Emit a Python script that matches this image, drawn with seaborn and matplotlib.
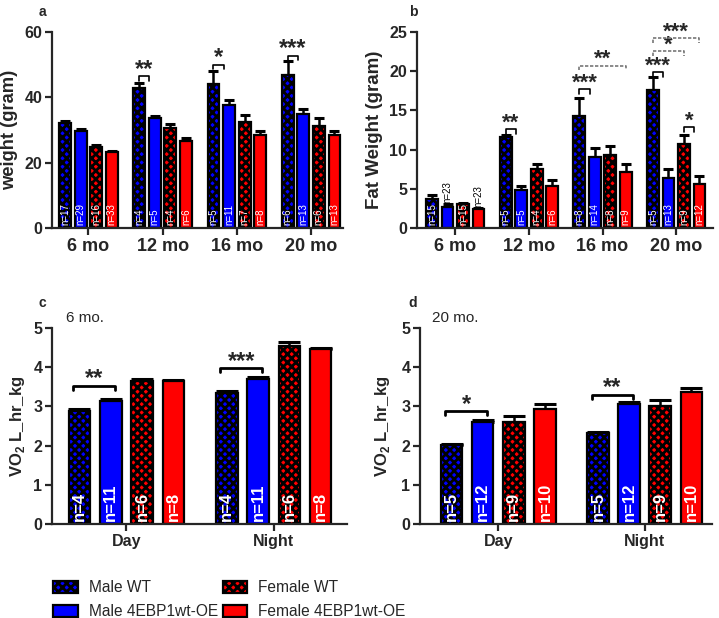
import numpy as np
import pandas as pd
import matplotlib
matplotlib.use("Agg")
import matplotlib.pyplot as plt
import seaborn as sns

sns.set_style("ticks")
plt.rcParams['font.family'] = ['Liberation Sans', 'DejaVu Sans']
plt.rcParams['mathtext.fontset'] = 'custom'
plt.rcParams['mathtext.rm'] = 'Liberation Sans:bold'
plt.rcParams['mathtext.bf'] = 'Liberation Sans:bold'
plt.rcParams['hatch.linewidth'] = 2.0

# ---------------- data ----------------
genotypes = ["Male WT", "Male 4EBP1wt-OE", "Female WT", "Female 4EBP1wt-OE"]
colors = ["#0000ff", "#0000ff", "#ff0000", "#ff0000"]
ages = ["6 mo", "12 mo", "16 mo", "20 mo"]
periods = ["Day", "Night"]

# panel a: body weight (gram)
weight_male_wt = [32.0, 42.9, 44.2, 46.9]
weight_male_oe = [29.7, 33.8, 37.6, 34.9]
weight_female_wt = [24.8, 30.7, 32.5, 31.3]
weight_female_oe = [23.3, 26.7, 28.4, 28.6]
weight_err_male_wt = [0.8, 1.4, 3.9, 4.1]
weight_err_male_oe = [0.5, 0.4, 1.7, 1.5]
weight_err_female_wt = [0.5, 1.2, 2.1, 2.5]
weight_err_female_oe = [0.3, 0.7, 1.3, 1.0]
weight_n_male_wt = ["n=17", "n=4", "n=5", "n=6"]
weight_n_male_oe = ["n=29", "n=5", "n=11", "n=13"]
weight_n_female_wt = ["n=16", "n=4", "n=7", "n=6"]
weight_n_female_oe = ["n=33", "n=6", "n=8", "n=13"]

# panel b: fat weight (gram)
fat_male_wt = [3.7, 11.6, 14.3, 17.6]
fat_male_oe = [2.7, 4.9, 9.1, 6.4]
fat_female_wt = [3.0, 7.5, 9.3, 10.7]
fat_female_oe = [2.4, 5.4, 7.1, 5.6]
fat_err_male_wt = [0.5, 0.3, 2.3, 1.6]
fat_err_male_oe = [0.4, 0.5, 1.1, 1.1]
fat_err_female_wt = [0.2, 0.7, 1.2, 1.2]
fat_err_female_oe = [0.2, 0.7, 1.1, 1.0]
fat_n_male_wt = ["n=15", "n=5", "n=8", "n=5"]
fat_n_male_oe = ["n=23", "n=5", "n=14", "n=13"]
fat_n_female_wt = ["n=15", "n=4", "n=8", "n=9"]
fat_n_female_oe = ["n=23", "n=6", "n=9", "n=12"]

# panel c: VO2 at 6 months
vo2_6_male_wt = [2.88, 3.33]
vo2_6_male_oe = [3.15, 3.71]
vo2_6_female_wt = [3.65, 4.55]
vo2_6_female_oe = [3.64, 4.47]
vo2_6_err_male_wt = [0.05, 0.06]
vo2_6_err_male_oe = [0.04, 0.04]
vo2_6_err_female_wt = [0.04, 0.10]
vo2_6_err_female_oe = [0.03, 0.03]
vo2_6_n = ["n=4", "n=11", "n=6", "n=8"]

# panel d: VO2 at 20 months
vo2_20_male_wt = [2.01, 2.32]
vo2_20_male_oe = [2.60, 3.05]
vo2_20_female_wt = [2.60, 3.02]
vo2_20_female_oe = [2.94, 3.37]
vo2_20_err_male_wt = [0.02, 0.02]
vo2_20_err_male_oe = [0.05, 0.05]
vo2_20_err_female_wt = [0.15, 0.14]
vo2_20_err_female_oe = [0.11, 0.10]
vo2_20_n = ["n=5", "n=12", "n=9", "n=10"]

# significance annotations: (group index, bar i, bar j, y, label, dashed)
sig_a = [(1, 0, 1, 46.5, "**", False), (2, 0, 1, 50.0, "*", False), (3, 0, 1, 52.8, "***", False)]
sig_b = [(1, 0, 1, 12.6, "**", False), (2, 0, 1, 17.7, "***", False), (2, 0, 3, 20.7, "**", True),
         (3, 0, 1, 19.9, "***", False), (3, 0, 2, 22.6, "*", True), (3, 0, 3, 24.2, "***", True),
         (3, 2, 3, 12.9, "*", False)]
sig_c = [(0, 0, 1, 3.52, "**", False), (1, 0, 1, 3.97, "***", False)]
sig_d = [(0, 0, 1, 2.87, "*", False), (1, 0, 1, 3.29, "**", False)]

W = 719 / 100
H = 618 / 100
fig = plt.figure(figsize=(W, H), dpi=100)

def fx(px):
    return px / 719

def fy(py):
    return 1 - py / 618

ax_a = fig.add_axes([fx(52), fy(228), fx(343) - fx(52), fy(32) - fy(228)])
ax_b = fig.add_axes([fx(417), fy(228), fx(713) - fx(417), fy(32) - fy(228)])
ax_c = fig.add_axes([fx(52), fy(524), fx(347) - fx(52), fy(328) - fy(524)])
ax_d = fig.add_axes([fx(420), fy(524), fx(712) - fx(420), fy(328) - fy(524)])


def draw_panel(ax, cats, means, errs, width, gap, capsize):
    rows = []
    for g, vals in zip(genotypes, means):
        for c, v in zip(cats, vals):
            rows.append({"cat": c, "geno": g, "value": v})
    df = pd.DataFrame(rows)
    sns.barplot(data=df, x="cat", y="value", hue="geno", order=cats, hue_order=genotypes,
                palette=colors, saturation=1, width=width, gap=gap, edgecolor="black",
                linewidth=1.6, errorbar=None, legend=False, ax=ax, zorder=2)
    bar_conts = list(ax.containers)
    centers = np.zeros((4, len(cats)))
    for i, cont in enumerate(bar_conts):
        for j, bar in enumerate(cont.patches):
            if i in (0, 2):
                bar.set_hatch("xxxx")
            xc = bar.get_x() + bar.get_width() / 2
            centers[i, j] = xc
            ax.errorbar([xc], [bar.get_height()], yerr=[[0], [errs[i][j]]], fmt="none",
                        ecolor="black", elinewidth=1.8, capsize=capsize, capthick=2.2, zorder=1)
    bw = bar_conts[0].patches[0].get_width()
    return centers, bw, bar_conts


def style_axis(ax, ylim, yticks, ylabel, xfs, yfs, lfs):
    ax.set_ylim(*ylim)
    ax.set_yticks(yticks)
    ax.set_xlabel("")
    ax.set_ylabel(ylabel, fontsize=lfs, fontweight="bold")
    for s in ["top", "right"]:
        ax.spines[s].set_visible(False)
    for s in ["left", "bottom"]:
        ax.spines[s].set_linewidth(1.6)
    ax.tick_params(width=1.6, length=5, direction="out", pad=2)
    ax.tick_params(axis="x", labelsize=xfs)
    ax.tick_params(axis="y", labelsize=yfs)
    for lab in ax.get_xticklabels() + ax.get_yticklabels():
        lab.set_fontweight("bold")


def add_sigs(ax, centers, bw, sigs, tick, fs, style):
    for g, i, j, y, lab, dashed in sigs:
        if style == "short":
            x1 = centers[i, g]
            x2 = centers[j, g] - (0.45 * bw if j - i == 1 else 0.0)
        else:
            x1 = centers[i, g] - 0.3 * bw
            x2 = centers[j, g] + 0.2 * bw
        if dashed:
            ax.plot([x1, x1, x2, x2], [y - tick, y, y, y - tick], color="#777777", lw=1.2,
                    ls=(0, (2, 1)), zorder=3, clip_on=False)
        else:
            ax.plot([x1, x1, x2, x2], [y - tick, y, y, y - tick], color="black",
                    lw=1.2 if style == "short" else 2.0, zorder=3, clip_on=False)
        ax.annotate(lab, xy=((x1 + x2) / 2, y), xytext=(0, 0.4),
                    textcoords="offset points", ha="center", va="baseline", fontsize=fs,
                    fontweight="bold", annotation_clip=False)


# ---- panel a ----
means_a = [weight_male_wt, weight_male_oe, weight_female_wt, weight_female_oe]
errs_a = [weight_err_male_wt, weight_err_male_oe, weight_err_female_wt, weight_err_female_oe]
ns_a = [weight_n_male_wt, weight_n_male_oe, weight_n_female_wt, weight_n_female_oe]
cen_a, bw_a, _ = draw_panel(ax_a, ages, means_a, errs_a, 0.84, 0.24, 3.5)
style_axis(ax_a, (0, 60), [0, 20, 40, 60], "weight (gram)", 13, 11.5, 13.2)
ax_a.set_xlim(-0.49, 3.43)
for i in range(4):
    for j in range(4):
        ax_a.text(cen_a[i, j], 1.0, ns_a[i][j], rotation=90, ha="center", va="bottom",
                  color="white", fontsize=7, zorder=4)
add_sigs(ax_a, cen_a, bw_a, sig_a, 1.4, 17, "short")

# ---- panel b ----
means_b = [fat_male_wt, fat_male_oe, fat_female_wt, fat_female_oe]
errs_b = [fat_err_male_wt, fat_err_male_oe, fat_err_female_wt, fat_err_female_oe]
ns_b = [fat_n_male_wt, fat_n_male_oe, fat_n_female_wt, fat_n_female_oe]
cen_b, bw_b, _ = draw_panel(ax_b, ages, means_b, errs_b, 0.84, 0.24, 3.5)
style_axis(ax_b, (0, 25), [0, 5, 10, 15, 20, 25], "Fat Weight (gram)", 13, 11.5, 13.5)
ax_b.set_xlim(-0.52, 3.5)
for i in range(4):
    for j in range(4):
        if j == 0 and i in (1, 3):
            ax_b.text(cen_b[i, j], means_b[i][j] + errs_b[i][j] + 0.1, ns_b[i][j], rotation=90,
                      ha="center", va="bottom", color="black", fontsize=7, zorder=4)
        else:
            ax_b.text(cen_b[i, j], 0.4, ns_b[i][j], rotation=90, ha="center", va="bottom",
                      color="white", fontsize=7, zorder=4)
add_sigs(ax_b, cen_b, bw_b, sig_b, 0.6, 16, "short")

# ---- panel c ----
means_c = [vo2_6_male_wt, vo2_6_male_oe, vo2_6_female_wt, vo2_6_female_oe]
errs_c = [vo2_6_err_male_wt, vo2_6_err_male_oe, vo2_6_err_female_wt, vo2_6_err_female_oe]
cen_c, bw_c, conts_c = draw_panel(ax_c, periods, means_c, errs_c, 0.85, 0.31, 8)
style_axis(ax_c, (0, 5), [0, 1, 2, 3, 4, 5], r"VO$_{2}$ L_hr_kg", 11.5, 11.5, 12)
ax_c.set_xlim(-0.505, 1.498)
for i in range(4):
    for j in range(2):
        ax_c.text(cen_c[i, j], 0.08, vo2_6_n[i], rotation=90, ha="center", va="bottom",
                  color="white", fontsize=12, fontweight="bold", zorder=4)
add_sigs(ax_c, cen_c, bw_c, sig_c, 0.1, 17, "long")

# ---- panel d ----
means_d = [vo2_20_male_wt, vo2_20_male_oe, vo2_20_female_wt, vo2_20_female_oe]
errs_d = [vo2_20_err_male_wt, vo2_20_err_male_oe, vo2_20_err_female_wt, vo2_20_err_female_oe]
cen_d, bw_d, _ = draw_panel(ax_d, periods, means_d, errs_d, 0.85, 0.31, 8)
style_axis(ax_d, (0, 5), [0, 1, 2, 3, 4, 5], r"VO$_{2}$ L_hr_kg", 11.5, 11.5, 12)
ax_d.set_xlim(-0.535, 1.46)
for i in range(4):
    for j in range(2):
        ax_d.text(cen_d[i, j], 0.08, vo2_20_n[i], rotation=90, ha="center", va="bottom",
                  color="white", fontsize=12, fontweight="bold", zorder=4)
add_sigs(ax_d, cen_d, bw_d, sig_d, 0.1, 17, "long")

ax_a.yaxis.set_label_coords(-0.117, 0.5)
ax_b.yaxis.set_label_coords(-0.115, 0.5)
ax_c.yaxis.set_label_coords(-0.085, 0.5)
ax_d.yaxis.set_label_coords(-0.095, 0.5)

# panel letters and titles
fig.text(fx(42), fy(12), "a", fontsize=10, fontweight="bold", ha="center", va="center")
fig.text(fx(413), fy(12), "b", fontsize=10, fontweight="bold", ha="center", va="center")
fig.text(fx(42), fy(303), "c", fontsize=10, fontweight="bold", ha="center", va="center")
fig.text(fx(413), fy(303), "d", fontsize=10, fontweight="bold", ha="center", va="center")
fig.text(fx(66), fy(318), "6 mo.", fontsize=11, ha="left", va="center")
fig.text(fx(432), fy(318), "20 mo.", fontsize=11, ha="left", va="center")

# legend
handles = [conts_c[i].patches[0] for i in range(4)]
fig.legend(handles, genotypes, ncol=2, loc="upper left", bbox_to_anchor=(fx(39), fy(566)),
           frameon=False, fontsize=11.2, handlelength=1.6, handleheight=0.8, columnspacing=0.3,
           handletextpad=0.7, labelspacing=0.6)

fig.savefig("out.png", dpi=100)
